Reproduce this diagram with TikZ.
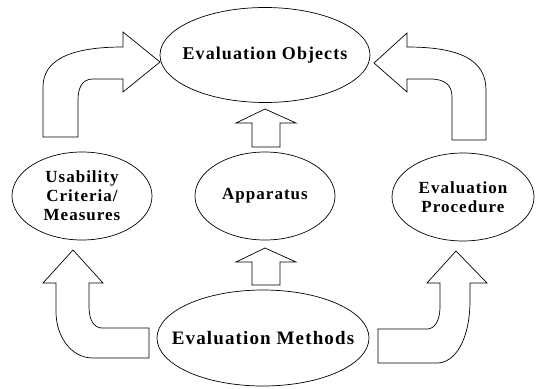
\documentclass[tikz,border=0pt]{standalone}
\usepackage{fontspec}
\setmainfont[LetterSpace=6]{Liberation Serif}
\usetikzlibrary{shapes.geometric}

\tikzset{
 oval/.style={draw, ellipse, inner sep=0pt},
 txt/.style={align=center, font=\bfseries\fontsize{17}{19}\selectfont},
 bigtxt/.style={align=center, font=\bfseries\fontsize{18}{20}\selectfont}
}

\begin{document}
\begin{tikzpicture}[x=1pt, y=-1pt, line width=0.7pt]
 \useasboundingbox (0,0) rectangle (537,388);

 % the five ovals
 \node[oval, minimum width=210, minimum height=95] (obj) at (265,55) {};
 \node[oval, minimum width=140, minimum height=88] (crit) at (82,196) {};
 \node[oval, minimum width=140, minimum height=88] (app) at (265,196) {};
 \node[oval, minimum width=142, minimum height=88] (proc) at (463,197) {};
 \node[oval, minimum width=212, minimum height=96] (meth) at (263,338) {};

 % their texts
 \node[bigtxt] (objtext) at (obj) {Evaluation Objects};
 \node[txt] (crittext) at (crit) {Usability\\Criteria/\\Measures};
 \node[txt] (apptext) at (app) {Apparatus};
 \node[txt] (proctext) at (proc) {Evaluation\\Procedure};
 \node[bigtxt, font=\bfseries\fontsize{19}{21}\selectfont] (methtext) at (meth) {Evaluation Methods};

 % straight arrows in the middle
 \foreach \tip/\back/\base in {109/123/147, 248/262/285} {
  \draw (265,\tip) -- (296,\back) -- (280,\back) -- (280,\base) -- (252,\base) -- (252,\back) -- (236,\back) -- cycle;
 }

 % bent arrows
 \draw (73,250) -- (103,283) -- (89,283) -- (89,307) .. controls (89,320) and (94,328) .. (102,328) -- (149,328) -- (149,358) -- (93,358) .. controls (70,358) and (56,335) .. (56,312) -- (56,283) -- (43,283) -- cycle;
 \draw (456,251) -- (487,283) -- (470,283) -- (470,300) .. controls (470,340) and (455,363) .. (437,363) -- (378,363) -- (378,329) -- (427,329) .. controls (435,329) and (440,320) .. (440,307) -- (440,283) -- (427,283) -- cycle;
 \draw (160,62) -- (123,92) -- (123,79) -- (93,79) .. controls (82,79) and (78,88) .. (78,100) -- (78,137) -- (43,137) -- (43,87) .. controls (43,60) and (70,47) .. (123,47) -- (123,32) -- cycle;
 \draw (374,63) -- (407,33) -- (407,47) .. controls (460,47) and (486,60) .. (486,90) -- (486,140) -- (452,140) -- (452,97) .. controls (452,85) and (445,79) .. (430,79) -- (407,79) -- (407,92) -- cycle;
\end{tikzpicture}
\end{document}
